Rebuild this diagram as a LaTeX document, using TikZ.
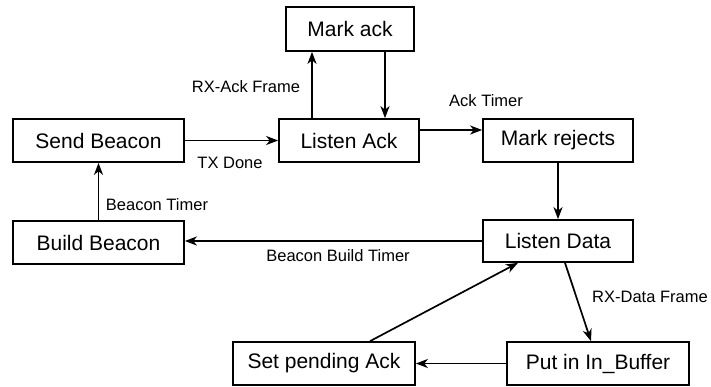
\documentclass[tikz,border=0pt]{standalone}
\usepackage{fontspec}
\setmainfont{Liberation Sans}
\usetikzlibrary{arrows.meta}
\begin{document}
\begin{tikzpicture}[x=1pt,y=-1pt,
  box/.style={draw,line width=1.7pt,inner sep=0pt,font=\fontsize{21}{25}\selectfont},
  lbl/.style={inner sep=0pt,font=\fontsize{16.5}{20}\selectfont},
  conn/.style={line width=1.7pt,-{Stealth[length=12pt,width=9pt,inset=3.5pt]}}]
\useasboundingbox (0,0) rectangle (711,386);
\node[box,minimum width=171pt,minimum height=43pt] (sb) at (98.5,140.5) {Send Beacon};
\node[box,minimum width=128pt,minimum height=44pt] (ma) at (350,29) {Mark ack};
\node[box,minimum width=140pt,minimum height=43pt] (la) at (349,140.5) {Listen Ack};
\node[box,minimum width=150pt,minimum height=43pt] (mr) at (558,140.5) {Mark rejects};
\node[box,minimum width=171pt,minimum height=43pt] (bb) at (98.5,242.5) {Build Beacon};
\node[box,minimum width=150pt,minimum height=42pt] (ld) at (558,241) {Listen Data};
\node[box,minimum width=182pt,minimum height=43pt] (pb) at (598,363.5) {Put in In\_Buffer};
\node[box,minimum width=182pt,minimum height=43pt] (sp) at (324,363.5) {Set pending Ack};

\draw[conn] (sb.east) -- (la.west);
\draw[conn] ([xshift=-37pt]la.north) -- ([xshift=-37pt]la.north |- ma.south);
\draw[conn] ([xshift=35pt]ma.south) -- ([xshift=35pt]ma.south |- la.north);
\draw[conn] ([yshift=10.5pt]la.east) -- ([yshift=10.5pt]la.east -| mr.west);
\draw[conn] (mr.south) -- (ld.north);
\draw[conn] (ld.west) -- (ld.west -| bb.east);
\draw[conn] (bb.north) -- (sb.south);
\draw[conn] ([xshift=7pt]ld.south) -- ([xshift=-7pt]pb.north);
\draw[conn] (pb.west) -- (sp.east);
\draw[conn] ([xshift=46pt]sp.north) -- ([xshift=-40pt]ld.south);

\node[lbl] (l1) at (230,163) {TX Done};
\node[lbl] (l2) at (246,87) {RX-Ack Frame};
\node[lbl] (l3) at (486,101) {Ack Timer};
\node[lbl] (l4) at (338,256) {Beacon Build Timer};
\node[lbl] (l5) at (157,205) {Beacon Timer};
\node[lbl] (l6) at (650,297) {RX-Data Frame};
\end{tikzpicture}
\end{document}
